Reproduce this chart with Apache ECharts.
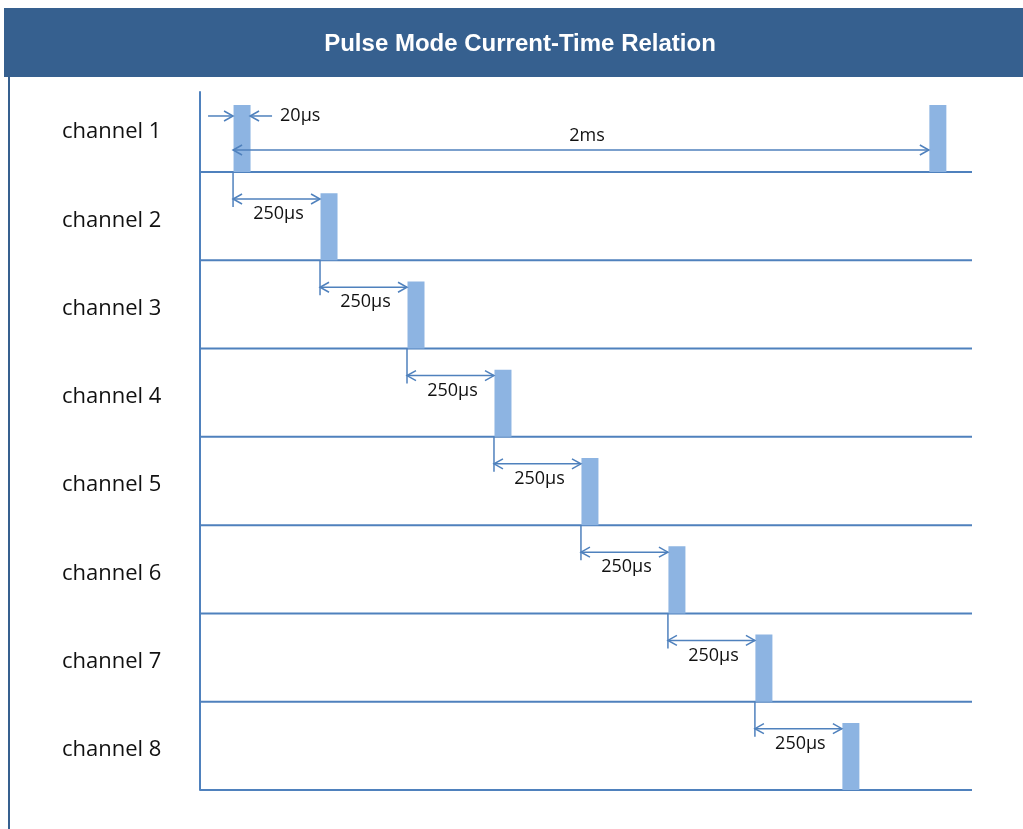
<!DOCTYPE html>
<html><head><meta charset="utf-8">
<script src="https://cdn.jsdelivr.net/npm/echarts/dist/echarts.min.js"></script>
<style>html,body{margin:0;padding:0;background:#fff}#c{width:1023px;height:829px}</style>
</head><body><div id="c"></div>
<script>
// ---- data ----
const titleText = 'Pulse Mode Current-Time Relation';
const channels = ['channel 1','channel 2','channel 3','channel 4','channel 5','channel 6','channel 7','channel 8'];
const pulseStarts = [0, 250, 500, 750, 1000, 1250, 1500, 1750]; // µs, first pulse of each channel
const period = 2000;            // µs, repeat time (shown on channel 1)
const delayLabel = '250µs';
const periodLabel = '2ms';
const widthLabel = '20µs';

// ---- derived series data ----
const X_MIN = -95, X_MAX = 2124;
const rows = channels.map((c, i) => i + 1);
const pulseData = channels.map((c, i) => [pulseStarts[i], rows[i]]).concat([[pulseStarts[0] + period, rows[0]]]);
const delayData = [];
for (let i = 0; i < channels.length - 1; i++) delayData.push([pulseStarts[i], pulseStarts[i + 1], rows[i]]);
const periodData = [[pulseStarts[0], pulseStarts[0] + period, rows[0]]];
const widthData = [[pulseStarts[0], rows[0]]];
const labelData = rows.map(r => [X_MIN, r]);

const BLUE = '#4F81BD', PULSE = '#8DB4E2', FONT = '"Open Sans"';
const PULSE_W = 17;

function head(x, y, dir) {
  return { type: 'polyline', shape: { points: [[x - dir * 9, y - 5], [x, y], [x - dir * 9, y + 5]] },
    style: { stroke: BLUE, lineWidth: 1.5, fill: null } };
}
function hline(x1, x2, y) {
  return { type: 'line', shape: { x1, y1: y, x2, y2: y }, style: { stroke: BLUE, lineWidth: 1.5 } };
}

const chart = echarts.init(document.getElementById('c'), null, { renderer: 'canvas' });
chart.setOption({
  animation: false,
  backgroundColor: '#fff',
  title: {
    text: titleText, left: 520, top: 30, textAlign: 'center', padding: 0,
    textStyle: { color: '#fff', fontFamily: 'Liberation Sans', fontWeight: 'bold', fontSize: 24, lineHeight: 28 }, z: 10
  },
  graphic: [
    { type: 'rect', shape: { x: 4, y: 8, width: 1030, height: 69 }, style: { fill: '#36608F' }, z: -1 },
    { type: 'line', shape: { x1: 9, y1: 77, x2: 9, y2: 829 }, style: { stroke: '#36608F', lineWidth: 2 }, z: -1 }
  ],
  grid: { left: 200, right: 51, top: 92, bottom: 39 },
  xAxis: { type: 'value', min: X_MIN, max: X_MAX, show: false },
  yAxis: {
    type: 'value', min: 0.094, max: 8, inverse: true,
    axisLine: { show: true, onZero: false, lineStyle: { color: BLUE, width: 2 } },
    axisTick: { show: false }, axisLabel: { show: false }, splitLine: { show: false }
  },
  series: [
    { // baselines per channel
      type: 'custom', clip: false, z: 2,
      data: labelData,
      renderItem(params, api) {
        const a = api.coord([X_MIN, api.value(1)]);
        const b = api.coord([X_MAX, api.value(1)]);
        return { type: 'line', shape: { x1: a[0], y1: a[1], x2: b[0], y2: b[1] }, style: { stroke: BLUE, lineWidth: 2 } };
      }
    },
    { // pulses
      type: 'custom', clip: false, z: 3,
      data: pulseData,
      renderItem(params, api) {
        const p = api.coord([api.value(0), api.value(1)]);
        const h = api.size([0, 1])[1] * 0.76;
        return { type: 'rect', shape: { x: p[0] + 0.5, y: p[1] - h, width: PULSE_W, height: h }, style: { fill: PULSE } };
      }
    },
    { // channel labels
      type: 'custom', clip: false, z: 4,
      data: labelData,
      renderItem(params, api) {
        const p = api.coord([X_MIN, api.value(1)]);
        return { type: 'text', style: { text: channels[params.dataIndex], x: p[0] - 138, y: p[1] - 40,
          textAlign: 'left', textVerticalAlign: 'middle', font: '22px ' + FONT, fill: '#111' } };
      }
    },
    { // 250µs delay annotations
      type: 'custom', clip: false, z: 5,
      data: delayData,
      renderItem(params, api) {
        const a = api.coord([api.value(0), api.value(2)]);
        const b = api.coord([api.value(1), api.value(2)]);
        const y = a[1] + 27;
        return { type: 'group', children: [
          { type: 'line', shape: { x1: a[0], y1: a[1], x2: a[0], y2: a[1] + 35 }, style: { stroke: BLUE, lineWidth: 1.5 } },
          hline(a[0], b[0], y), head(a[0], y, -1), head(b[0], y, 1),
          { type: 'text', style: { text: delayLabel, x: (a[0] + b[0]) / 2 + 2, y: a[1] + 42, textAlign: 'center',
            textVerticalAlign: 'middle', font: '18px ' + FONT, fill: '#111' } }
        ] };
      }
    },
    { // period annotation
      type: 'custom', clip: false, z: 5,
      data: periodData,
      renderItem(params, api) {
        const a = api.coord([api.value(0), api.value(2)]);
        const b = api.coord([api.value(1), api.value(2)]);
        const y = a[1] - 22;
        return { type: 'group', children: [
          hline(a[0], b[0], y), head(a[0], y, -1), head(b[0], y, 1),
          { type: 'text', style: { text: periodLabel, x: (a[0] + b[0]) / 2 + 6, y: a[1] - 36, textAlign: 'center',
            textVerticalAlign: 'middle', font: '18px ' + FONT, fill: '#111' } }
        ] };
      }
    },
    { // pulse width annotation
      type: 'custom', clip: false, z: 5,
      data: widthData,
      renderItem(params, api) {
        const a = api.coord([api.value(0), api.value(1)]);
        const y = a[1] - 56;
        const r = a[0] + PULSE_W;
        return { type: 'group', children: [
          hline(a[0] - 25, a[0], y), head(a[0], y, 1),
          hline(r, r + 22, y), head(r, y, -1),
          { type: 'text', style: { text: widthLabel, x: r + 30, y: y, textAlign: 'left',
            textVerticalAlign: 'middle', font: '18px ' + FONT, fill: '#111' } }
        ] };
      }
    }
  ]
});
</script></body></html>
